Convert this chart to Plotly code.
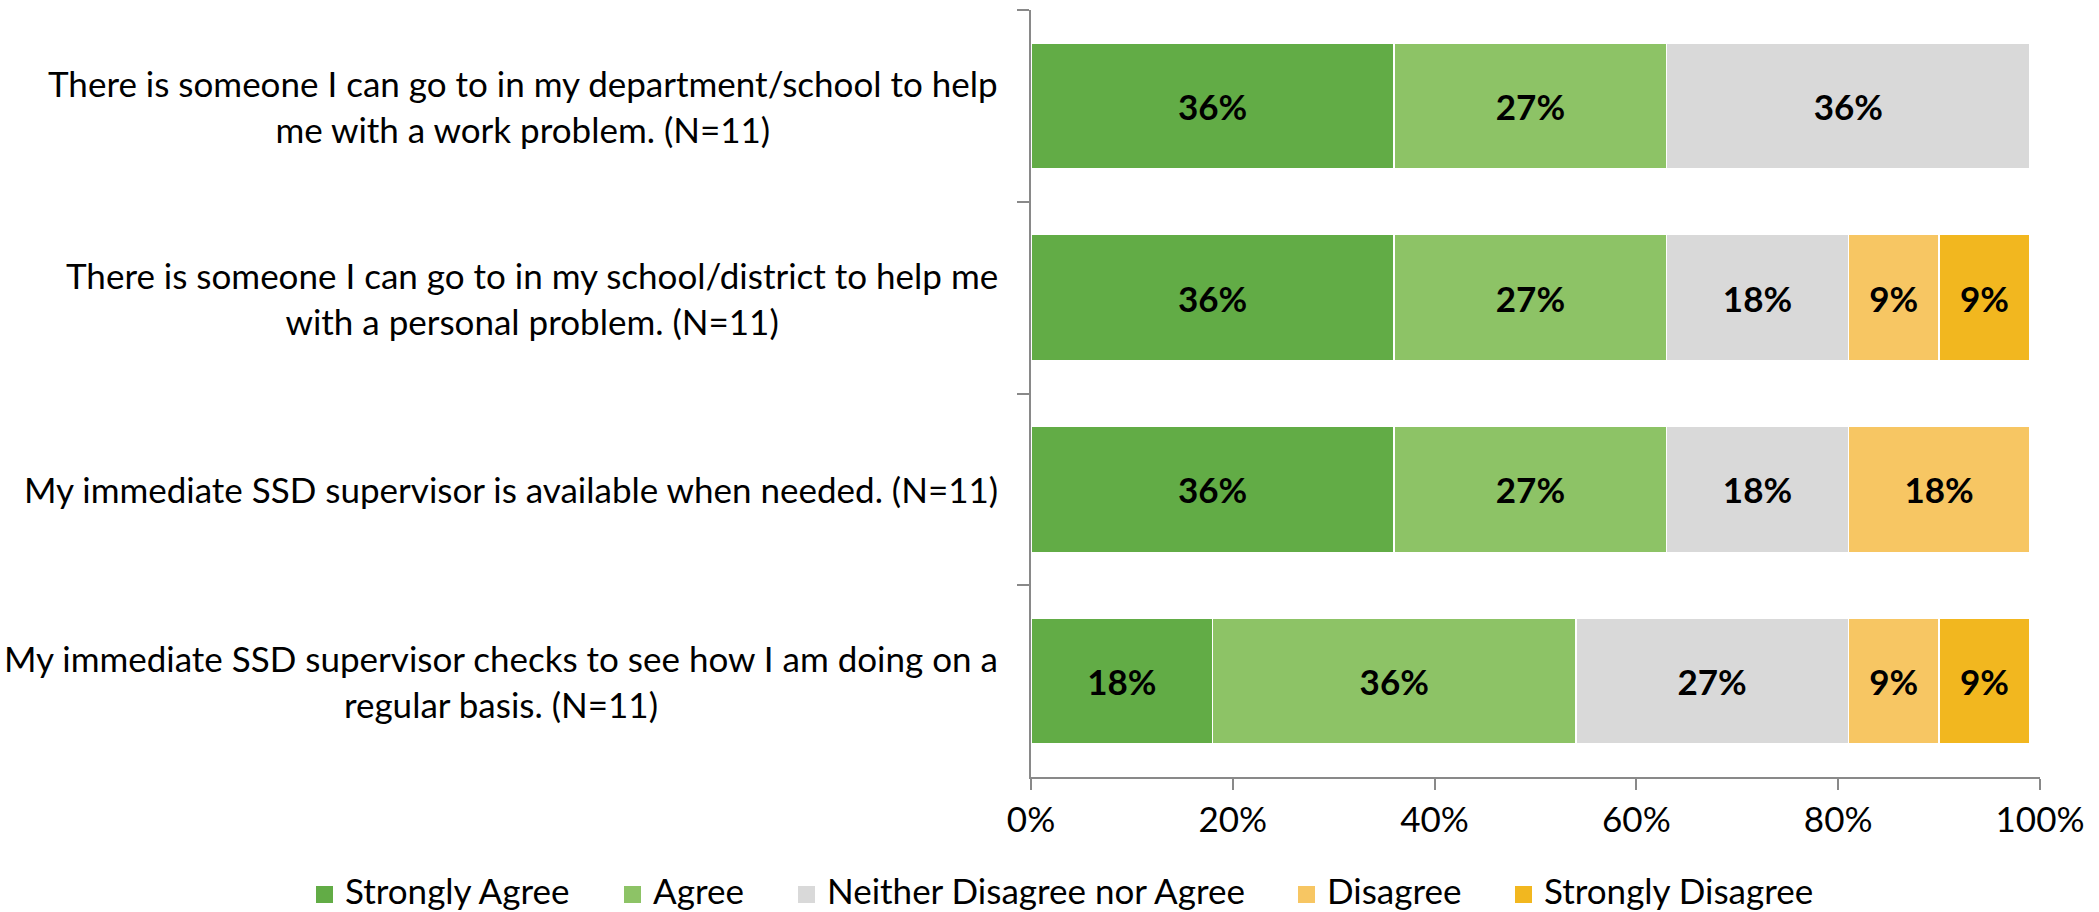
import plotly.graph_objects as go

# Survey items (top to bottom) and response shares in percent
statements = [
    "There is someone I can go to in my department/school to help<br>me with a work problem. (N=11)",
    "There is someone I can go to in my school/district to help me<br>with a personal problem. (N=11)",
    "My immediate SSD supervisor is available when needed. (N=11)",
    "My immediate SSD supervisor checks to see how I am doing on a<br>regular basis. (N=11)",
]
responses = ["Strongly Agree", "Agree", "Neither Disagree nor Agree", "Disagree", "Strongly Disagree"]
strongly_agree = [36, 36, 36, 18]
agree = [27, 27, 27, 36]
neither = [36, 18, 18, 27]
disagree = [0, 9, 18, 9]
strongly_disagree = [0, 9, 0, 9]
x_ticks = [0, 20, 40, 60, 80, 100]
x_tick_labels = ["0%", "20%", "40%", "60%", "80%", "100%"]

series = [strongly_agree, agree, neither, disagree, strongly_disagree]
colors = ["#62AC46", "#8DC366", "#D9D9D9", "#F7C663", "#F2B71F"]

W, H = 2099, 912
L, R, T, B = 1031, 59, 10, 135
FONT = "Lato, sans-serif"
FS = 35
AXIS_GREY = "#898989"

cat_ids = [f"c{i}" for i in range(len(statements))]

fig = go.Figure()
for name, vals, col in zip(responses, series, colors):
    fig.add_trace(go.Bar(
        y=cat_ids, x=vals, name=name, orientation="h",
        marker=dict(color=col, line=dict(color="white", width=1.5)),
        text=[f"{v}%" if v else "" for v in vals],
        textposition="inside", insidetextanchor="middle",
        textfont=dict(family=FONT, size=FS, color="black", weight="bold"),
        constraintext="none", showlegend=False,
    ))

# Category labels, centred line by line, right-aligned to the axis
for cid, label in zip(cat_ids, statements):
    fig.add_annotation(
        x=0, xref="paper", y=cid, yref="y", xanchor="right", yanchor="middle",
        xshift=-31, text=label, align="center", showarrow=False,
        font=dict(family=FONT, size=FS, color="black"),
    )

# Legend row: square swatch followed by the response label
plot_w = W - L - R
plot_h = H - T - B
def px_x(px):
    return (px - L) / plot_w
def px_y(py):
    return (H - B - py) / plot_h

legend_left = [316, 624, 798, 1298, 1515]
for name, col, lx in zip(responses, colors, legend_left):
    fig.add_shape(type="rect", xref="paper", yref="paper",
                  x0=px_x(lx), x1=px_x(lx + 17), y0=px_y(903), y1=px_y(886),
                  fillcolor=col, line=dict(width=0))
    fig.add_annotation(x=px_x(lx + 28), y=px_y(H), xref="paper", yref="paper",
                       xanchor="left", yanchor="bottom", text=name, showarrow=False,
                       borderpad=0,
                       font=dict(family=FONT, size=FS, color="black"))

fig.update_layout(
    width=W, height=H, margin=dict(l=L, r=R, t=T, b=B),
    barmode="stack", bargap=0.343,
    plot_bgcolor="white", paper_bgcolor="white",
    font=dict(family=FONT, size=FS, color="black"),
    xaxis=dict(range=[0, 100], tickvals=x_ticks, ticktext=x_tick_labels,
               showgrid=False, zeroline=False, showline=True,
               linecolor=AXIS_GREY, linewidth=2, ticks="outside",
               ticklen=11, tickwidth=2, tickcolor=AXIS_GREY,
               tickfont=dict(family=FONT, size=FS, color="black")),
    yaxis=dict(categoryorder="array", categoryarray=cat_ids, autorange="reversed",
               showticklabels=False, showgrid=False, zeroline=False,
               showline=True, linecolor=AXIS_GREY, linewidth=2,
               ticks="outside", tickson="boundaries", ticklen=12,
               tickwidth=2, tickcolor=AXIS_GREY),
)

fig.write_html("out.html")
